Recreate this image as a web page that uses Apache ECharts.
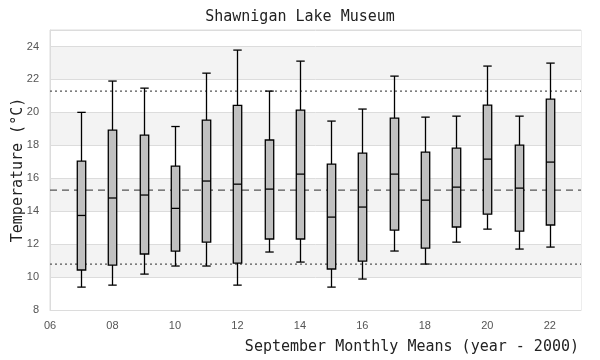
<!DOCTYPE html>
<html>
<head>
<meta charset="utf-8">
<script src="https://cdn.jsdelivr.net/npm/echarts@6/dist/echarts.min.js"></script>
<style>html,body{margin:0;padding:0;background:#fff}#c{width:600px;height:360px}</style>
</head>
<body>
<div id="c"></div>
<script>
// Data
var years = [7, 8, 9, 10, 11, 12, 13, 14, 15, 16, 17, 18, 19, 20, 21, 22];
var whiskerLow = [9.39, 9.51, 10.18, 10.67, 10.67, 9.51, 11.52, 10.91, 9.39, 9.88, 11.58, 10.79, 12.12, 12.91, 11.70, 11.82];
var q1 = [10.43, 10.73, 11.40, 11.58, 12.12, 10.85, 12.31, 12.31, 10.49, 10.97, 12.85, 11.76, 13.04, 13.82, 12.79, 13.16];
var median = [13.74, 14.80, 14.98, 14.17, 15.83, 15.64, 15.34, 16.25, 13.64, 14.25, 16.25, 14.67, 15.46, 17.16, 15.40, 16.98];
var q3 = [17.04, 18.92, 18.62, 16.74, 19.53, 20.42, 18.32, 20.14, 16.86, 17.53, 19.65, 17.59, 17.83, 20.44, 18.01, 20.80];
var whiskerHigh = [20.00, 21.90, 21.47, 19.14, 22.38, 23.78, 21.29, 23.11, 19.47, 20.20, 22.20, 19.71, 19.77, 22.81, 19.77, 22.99];
var meanLine = 15.28;
var upperLine = 21.29;
var lowerLine = 10.79;

var boxData = years.map(function (y, i) {
  return [y, whiskerLow[i], q1[i], median[i], q3[i], whiskerHigh[i]];
});

var chart = echarts.init(document.getElementById('c'), null, {renderer: 'canvas'});
var mono = '"DejaVu Sans Mono", monospace';
var sans = '"Liberation Sans", sans-serif';

function renderBox(params, api) {
  var x = api.value(0);
  var lo = api.coord([x, api.value(1)]);
  var b1 = api.coord([x, api.value(2)]);
  var md = api.coord([x, api.value(3)]);
  var b3 = api.coord([x, api.value(4)]);
  var hi = api.coord([x, api.value(5)]);
  var w = api.size([0.27, 0])[0];
  var h = w / 2;
  var cx = Math.round(lo[0]) + 0.5;
  var st = {stroke: '#000', lineWidth: 1.3, fill: null};
  return {
    type: 'group',
    children: [
      {type: 'line', shape: {x1: cx, y1: hi[1], x2: cx, y2: b3[1]}, style: st},
      {type: 'line', shape: {x1: cx, y1: b1[1], x2: cx, y2: lo[1]}, style: st},
      {type: 'line', shape: {x1: cx - h, y1: hi[1], x2: cx + h, y2: hi[1]}, style: st},
      {type: 'line', shape: {x1: cx - h, y1: lo[1], x2: cx + h, y2: lo[1]}, style: st},
      {type: 'rect', shape: {x: cx - h, y: b3[1], width: w, height: b1[1] - b3[1]},
        style: {fill: '#c0c0c0', stroke: '#000', lineWidth: 1.3}},
      {type: 'line', shape: {x1: cx - h, y1: md[1], x2: cx + h, y2: md[1]}, style: st}
    ]
  };
}

chart.setOption({
  animation: false,
  title: {
    text: 'Shawnigan Lake Museum',
    left: 'center',
    top: 5,
    textStyle: {fontFamily: mono, fontSize: 15, fontWeight: 'normal', color: '#222'}
  },
  grid: {left: 50, right: 19, top: 30, bottom: 50, show: true, borderColor: '#dcdcdc', borderWidth: 1,
    containLabel: false, outerBoundsMode: 'none'},
  xAxis: {
    type: 'value',
    min: 6, max: 23, interval: 2,
    name: 'September Monthly Means (year - 2000)',
    nameLocation: 'end',
    nameGap: -2,
    nameMoveOverlap: false,
    nameTextStyle: {fontFamily: mono, fontSize: 15, color: '#222', align: 'right', verticalAlign: 'top', padding: [30, 0, 0, 0]},
    axisLine: {show: true, lineStyle: {color: '#dcdcdc'}},
    axisTick: {show: false},
    splitLine: {show: false},
    axisLabel: {
      margin: 10, color: '#555', fontFamily: sans, fontSize: 11,
      formatter: function (v) { return v % 2 ? '' : (v < 10 ? '0' + v : '' + v); }
    }
  },
  yAxis: {
    type: 'value',
    min: 8, max: 25, interval: 2,
    name: 'Temperature (°C)',
    nameLocation: 'middle',
    nameGap: 24,
    nameMoveOverlap: false,
    nameTextStyle: {fontFamily: mono, fontSize: 15, color: '#222'},
    axisLine: {show: true, lineStyle: {color: '#dcdcdc'}},
    axisTick: {show: false},
    splitLine: {show: true, lineStyle: {color: '#dcdcdc', width: 1}},
    splitArea: {show: true, areaStyle: {color: ['#ffffff', '#f3f3f3']}},
    axisLabel: {
      margin: 11, color: '#555', fontFamily: sans, fontSize: 11,
      formatter: function (v) { return v > 24 ? '' : '' + v; }
    }
  },
  series: [
    {
      type: 'line',
      data: [[6, meanLine], [23, meanLine]],
      symbol: 'none', silent: true,
      lineStyle: {color: '#555', width: 1.2, type: [7, 5]}
    },
    {
      type: 'line',
      data: [[6, upperLine], [23, upperLine]],
      symbol: 'none', silent: true,
      lineStyle: {color: '#555', width: 1.2, type: [2, 3]}
    },
    {
      type: 'line',
      data: [[6, lowerLine], [23, lowerLine]],
      symbol: 'none', silent: true,
      lineStyle: {color: '#555', width: 1.2, type: [2, 3]}
    },
    {
      type: 'custom',
      renderItem: renderBox,
      data: boxData,
      encode: {x: 0, y: [1, 2, 3, 4, 5]},
      z: 5
    }
  ]
});
</script>
</body>
</html>
